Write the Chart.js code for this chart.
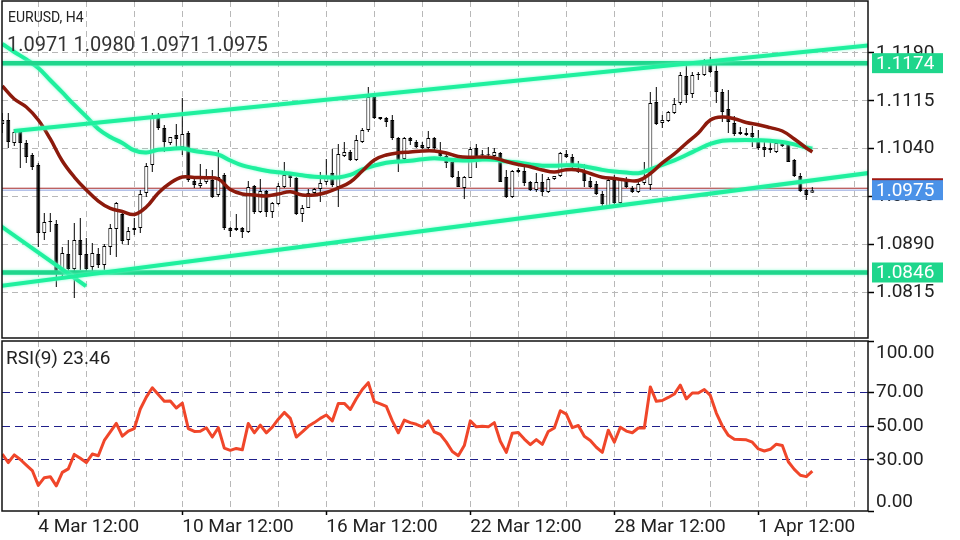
<!DOCTYPE html>
<html lang="en">
<head>
<meta charset="UTF-8">
<script src="https://cdn.jsdelivr.net/npm/chart.js"></script>
<title>EURUSD, H4</title>
<style>
  body { margin: 0; background: #fff; }
  #wrap { position: relative; width: 960px; height: 540px; }
  canvas { position: absolute; left: 0; }
  #priceChart { top: 0; }
  #rsiChart { top: 340px; }
</style>
</head>
<body>
<div id="wrap">
  <canvas id="priceChart" width="960" height="340"></canvas>
  <canvas id="rsiChart" width="960" height="200"></canvas>
</div>
<script>
// ---- data (H4 bars, index 0 = first visible bar) ----
const symbol = 'EURUSD, H4';

const opens = [
  1.10787, 1.10850, 1.10489, 1.10662, 1.10489, 1.10301, 1.10144, 1.09079, 1.09251, 1.09220,
  1.08515, 1.08750, 1.08515, 1.08969, 1.08750, 1.08546, 1.08750, 1.08577, 1.08860, 1.09142,
  1.09377, 1.08969, 1.09157, 1.09157, 1.09706, 1.10144, 1.10881, 1.10724, 1.10489, 1.10615,
  1.10427, 1.10646, 1.09894, 1.09815, 1.09878, 1.09909, 1.09674, 1.09988, 1.09157, 1.09126,
  1.09157, 1.09095, 1.09815, 1.09408, 1.09737, 1.09408, 1.09533, 1.09800, 1.09988, 1.09941,
  1.09377, 1.09471, 1.09706, 1.09768, 1.09878, 1.10019, 1.09800, 1.10286, 1.10348, 1.10223,
  1.10505, 1.10693, 1.11210, 1.10897, 1.10881, 1.10850, 1.10568, 1.10239, 1.10568, 1.10505,
  1.10458, 1.10411, 1.10568, 1.10333, 1.10286, 1.10192, 1.09956, 1.09784, 1.09941, 1.10411,
  1.10301, 1.10301, 1.10286, 1.10333, 1.09956, 1.09643, 1.10066, 1.10050, 1.09878, 1.09753,
  1.09878, 1.09721, 1.09925, 1.09972, 1.10317, 1.10270, 1.10066, 1.10035, 1.09894, 1.09847,
  1.09690, 1.09502, 1.09909, 1.09549, 1.09909, 1.09784, 1.09721, 1.09862, 1.09831, 1.11132,
  1.10803, 1.10834, 1.10959, 1.11116, 1.11539, 1.11257, 1.11555, 1.11555, 1.11727, 1.11617,
  1.11288, 1.11022, 1.10803, 1.10662, 1.10646, 1.10646, 1.10521, 1.10427, 1.10411, 1.10348,
  1.10489, 1.10474, 1.10223, 1.09972, 1.09753, 1.0971
];
const highs = [
  1.10959, 1.10959, 1.10709, 1.10677, 1.10536, 1.10333, 1.10176, 1.09392, 1.09392, 1.09283,
  1.08860, 1.08969, 1.09236, 1.09314, 1.09001, 1.08922, 1.08844, 1.08907, 1.09220, 1.09565,
  1.09439, 1.09173, 1.09314, 1.09753, 1.10176, 1.10959, 1.10959, 1.10771, 1.10583, 1.10787,
  1.11194, 1.10677, 1.09956, 1.10160, 1.10082, 1.10066, 1.10380, 1.10019, 1.09173, 1.09377,
  1.09173, 1.09894, 1.09831, 1.09925, 1.09753, 1.09565, 1.09862, 1.10192, 1.10035, 1.09956,
  1.09518, 1.09768, 1.09784, 1.10035, 1.10239, 1.10395, 1.10474, 1.10505, 1.10380, 1.10615,
  1.10724, 1.11367, 1.11226, 1.10897, 1.10897, 1.10928, 1.10583, 1.10583, 1.10583, 1.10536,
  1.10505, 1.10677, 1.10583, 1.10505, 1.10317, 1.10192, 1.10050, 1.09972, 1.10427, 1.10474,
  1.10380, 1.10427, 1.10411, 1.10348, 1.10066, 1.10066, 1.10097, 1.10113, 1.09894, 1.10019,
  1.10003, 1.09956, 1.09972, 1.10348, 1.10380, 1.10317, 1.10207, 1.10160, 1.09956, 1.09894,
  1.09737, 1.09956, 1.09988, 1.09941, 1.09956, 1.09815, 1.09925, 1.10192, 1.11288, 1.11367,
  1.10928, 1.10991, 1.11194, 1.11602, 1.11711, 1.11602, 1.11602, 1.11805, 1.11837, 1.11743,
  1.11335, 1.11320, 1.10912, 1.10740, 1.10724, 1.10756, 1.10693, 1.10505, 1.10505, 1.10505,
  1.10505, 1.10489, 1.10239, 1.10019, 1.09768, 1.0980
];
const lows = [
  1.10646, 1.10411, 1.10442, 1.10097, 1.10176, 1.10066, 1.08860, 1.08969, 1.09095, 1.08233,
  1.08405, 1.08468, 1.08060, 1.08499, 1.08468, 1.08468, 1.08530, 1.08499, 1.08734, 1.08703,
  1.08907, 1.08891, 1.09048, 1.09079, 1.09643, 1.10035, 1.10693, 1.10348, 1.10458, 1.10411,
  1.10301, 1.09878, 1.09784, 1.09784, 1.09847, 1.09627, 1.09643, 1.09126, 1.09016, 1.09110,
  1.09001, 1.09079, 1.09377, 1.09392, 1.09330, 1.09314, 1.09518, 1.09784, 1.09800, 1.09361,
  1.09251, 1.09471, 1.09674, 1.09565, 1.09831, 1.09800, 1.09486, 1.10270, 1.10207, 1.10207,
  1.10489, 1.10662, 1.10865, 1.10850, 1.10740, 1.10536, 1.10035, 1.10223, 1.10458, 1.10411,
  1.10395, 1.10348, 1.10380, 1.10254, 1.10097, 1.09941, 1.09800, 1.09612, 1.09941, 1.10097,
  1.10254, 1.10286, 1.10270, 1.09878, 1.09627, 1.09627, 1.10019, 1.09815, 1.09737, 1.09721,
  1.09659, 1.09706, 1.09909, 1.09956, 1.10254, 1.10082, 1.10019, 1.09800, 1.09784, 1.09674,
  1.09486, 1.09502, 1.09533, 1.09533, 1.09784, 1.09706, 1.09706, 1.09831, 1.09753, 1.10771,
  1.10724, 1.10818, 1.10944, 1.11085, 1.11116, 1.11194, 1.11476, 1.11539, 1.11586, 1.11116,
  1.10818, 1.10646, 1.10599, 1.10615, 1.10599, 1.10427, 1.10380, 1.10270, 1.10333, 1.10333,
  1.10427, 1.10192, 1.09956, 1.09721, 1.09596, 1.0971
];
const closes = [
  1.10850, 1.10505, 1.10662, 1.10489, 1.10270, 1.10113, 1.09079, 1.09251, 1.09267, 1.08468,
  1.08766, 1.08515, 1.08969, 1.08734, 1.08515, 1.08766, 1.08577, 1.08875, 1.09157, 1.09549,
  1.08954, 1.09110, 1.09126, 1.09690, 1.10129, 1.10881, 1.10724, 1.10505, 1.10583, 1.10552,
  1.10630, 1.09909, 1.09831, 1.09862, 1.09956, 1.09643, 1.09956, 1.09157, 1.09110, 1.09157,
  1.09095, 1.09800, 1.09408, 1.09737, 1.09408, 1.09549, 1.09815, 1.09988, 1.09941, 1.09377,
  1.09471, 1.09706, 1.09768, 1.09862, 1.09941, 1.09831, 1.10317, 1.10348, 1.10223, 1.10536,
  1.10693, 1.11210, 1.10881, 1.10865, 1.10818, 1.10568, 1.10223, 1.10568, 1.10521, 1.10427,
  1.10411, 1.10568, 1.10411, 1.10286, 1.10176, 1.09956, 1.09800, 1.09956, 1.10395, 1.10270,
  1.10296, 1.10296, 1.10348, 1.09878, 1.09643, 1.10050, 1.10035, 1.09862, 1.09753, 1.09878,
  1.09721, 1.09925, 1.09972, 1.10333, 1.10270, 1.10160, 1.10035, 1.09894, 1.09800, 1.09690,
  1.09533, 1.09909, 1.09549, 1.09909, 1.09800, 1.09721, 1.09847, 1.09941, 1.11116, 1.10787,
  1.10850, 1.10975, 1.11100, 1.11555, 1.11241, 1.11555, 1.11560, 1.11727, 1.11602, 1.11288,
  1.10975, 1.10818, 1.10630, 1.10630, 1.10615, 1.10583, 1.10411, 1.10380, 1.10380, 1.10489,
  1.10442, 1.10192, 1.09972, 1.09737, 1.09674, 1.0975
];

// moving averages, read at every second bar
const maBars = [
  0, 2, 4, 6, 8, 10, 12, 14, 16, 18, 20, 22, 24, 26, 28, 30, 32, 34, 36, 38,
  40, 42, 44, 46, 48, 50, 52, 54, 56, 58, 60, 62, 64, 66, 68, 70, 72, 74, 76, 78,
  80, 82, 84, 86, 88, 90, 92, 94, 96, 98, 100, 102, 104, 106, 108, 110, 112, 114, 116, 118,
  120, 122, 124, 126, 128, 130, 132, 134, 135
];
const maFast = [
  1.11382, 1.11179, 1.11053, 1.10850, 1.10552, 1.10207, 1.09956, 1.09753, 1.09580, 1.09463,
  1.09416, 1.09369, 1.09486, 1.09706, 1.09862, 1.09956, 1.09949, 1.09945, 1.09925, 1.09761,
  1.09690, 1.09674, 1.09659, 1.09690, 1.09726, 1.09674, 1.09674, 1.09714, 1.09784, 1.09878,
  1.10050, 1.10223, 1.10301, 1.10336, 1.10348, 1.10364, 1.10364, 1.10333, 1.10278, 1.10265,
  1.10270, 1.10254, 1.10199, 1.10152, 1.10116, 1.10066, 1.10035, 1.10071, 1.10066, 1.10011,
  1.09953, 1.09933, 1.09906, 1.09902, 1.10011, 1.10176, 1.10317, 1.10485, 1.10646, 1.10850,
  1.10897, 1.10870, 1.10810, 1.10776, 1.10729, 1.10677, 1.10552, 1.10411, 1.10348
];
const maSlow = [
  1.12041, 1.11915, 1.11798, 1.11664, 1.11472, 1.11281, 1.11085, 1.10901, 1.10709, 1.10583,
  1.10489, 1.10372, 1.10340, 1.10384, 1.10395, 1.10405, 1.10364, 1.10337, 1.10306, 1.10215,
  1.10137, 1.10094, 1.10055, 1.10030, 1.10010, 1.09983, 1.09961, 1.09952, 1.09949, 1.09988,
  1.10074, 1.10134, 1.10181, 1.10199, 1.10210, 1.10235, 1.10249, 1.10235, 1.10218, 1.10215,
  1.10229, 1.10226, 1.10201, 1.10182, 1.10154, 1.10134, 1.10134, 1.10141, 1.10138, 1.10105,
  1.10068, 1.10041, 1.10025, 1.10016, 1.10077, 1.10148, 1.10218, 1.10301, 1.10391, 1.10474,
  1.10524, 1.10533, 1.10536, 1.10532, 1.10524, 1.10506, 1.10467, 1.10419, 1.10403
];

const rsi = [
  33.5, 28.5, 33, 30.3, 27, 23.8, 15.1, 19.6, 20.2, 14.8,
  22.7, 24.8, 33.3, 31, 28.5, 33.5, 32.5, 41.5, 46.5, 51.5,
  44, 47, 48.5, 60, 67, 72.5, 68.5, 64.5, 64.7, 60.6,
  63.5, 48.5, 46.8, 46.9, 49, 43.5, 49, 37, 35.7, 36.8,
  36, 51.5, 46, 50.5, 46, 49.3, 54, 58, 54.5, 43.5,
  46.5, 49.8, 52, 54.5, 56.5, 53, 63.3, 63.3, 59.7, 66,
  71.5, 75.5, 64.3, 63, 61.5, 53, 46, 53.5, 52, 51,
  49.5, 53, 46.5, 45, 40.5, 35, 32.5, 38.5, 53, 49.5,
  49.8, 49.5, 52, 41, 34.5, 45.7, 46.2, 42.3, 39, 42,
  39.2, 46.8, 48.8, 59, 57, 49, 50.3, 44, 41.5, 37.5,
  34.5, 47.5, 40.5, 49.3, 47, 46, 48.8, 48.8, 73, 64.5,
  65, 66.8, 68.8, 74, 66, 69.4, 69.4, 71.5, 68, 57.6,
  50, 44.5, 42.2, 42.1, 41.9, 40.5, 36.5, 35.3, 36.3, 39.3,
  38.5, 29, 24.5, 21, 20.2, 23.46
];

// drawn objects: price levels and trend lines (bar index, price)
const levels = [1.1174, 1.0846];
const bid = 1.0975;
const ask = 1.0978;
const upperChannel = [{x: 1.95, y: 1.10677}, {x: 150, y: 1.12069}];
const lowerChannel = [{x: -1, y: 1.08241}, {x: 150, y: 1.10087}];
const shortLine = [{x: -1, y: 1.09237}, {x: 13.95, y: 1.08248}];

// axes
const timeTicks = [6, 30, 54, 78, 102, 126];
const timeLabels = ['4 Mar 12:00', '10 Mar 12:00', '16 Mar 12:00', '22 Mar 12:00', '28 Mar 12:00', '1 Apr 12:00'];
const priceTicks = [1.0815, 1.0890, 1.0965, 1.1040, 1.1115, 1.1190];
const rsiTicks = [0, 30, 50, 70, 100];
const rsiLevels = [30, 50, 70];

// ---- view ----
const xMin = -0.05, xMax = 144.28;
const priceMin = 1.074335, priceMax = 1.12714;
const gridBars = [];
for (let v = 6; v <= 142; v += 8) gridBars.push(v);

const gridColor = '#b8b8b8';
const mint = '#1ff09e';
const levelColor = '#1fd68c';
const glowColor = 'rgba(120,255,205,0.9)';

Chart.defaults.font.family = 'Roboto';
Chart.defaults.color = '#222';
Chart.defaults.animation = false;

const bars = opens.map((o, i) => i);
const bull = bars.map(i => closes[i] >= opens[i]);
const last = bars.length - 1;

const glowPlugin = {
  id: 'glow',
  beforeDatasetDraw(chart, args) {
    const ds = chart.data.datasets[args.index];
    if (!ds.glow) return;
    chart.ctx.save();
    chart.ctx.shadowColor = ds.glow;
    chart.ctx.shadowBlur = 3;
  },
  afterDatasetDraw(chart, args) {
    if (chart.data.datasets[args.index].glow) chart.ctx.restore();
  }
};

const priceOverlay = {
  id: 'priceOverlay',
  afterDraw(chart) {
    const {ctx, chartArea: a, scales: {y}} = chart;
    ctx.save();
    ctx.strokeStyle = '#111';
    ctx.lineWidth = 1.5;
    ctx.strokeRect(a.left, a.top, a.right - a.left, a.bottom - a.top);

    ctx.font = '19px Roboto';
    ctx.textBaseline = 'middle';
    const tag = (v, bg, text) => {
      const py = y.getPixelForValue(v);
      ctx.fillStyle = bg;
      ctx.fillRect(a.right + 4, py - 10, 71, 20);
      if (text) {
        ctx.fillStyle = '#fff';
        ctx.fillText(text, a.right + 8, py + 1);
      }
    };
    tag(ask, '#a01812');
    tag(bid, '#4b92e8', bid.toFixed(4));
    levels.forEach(v => tag(v, levelColor, v.toFixed(4)));

    ctx.fillStyle = '#222';
    ctx.font = '14px Roboto';
    ctx.fillText(symbol, 8, 18);
    ctx.fillStyle = '#333';
    ctx.font = '20px Roboto';
    const ohlc = [opens[last], highs[last], lows[last], closes[last]].map(v => v.toFixed(4)).join(' ');
    ctx.fillText(ohlc, 7, 46);
    ctx.restore();
  }
};

const rsiOverlay = {
  id: 'rsiOverlay',
  afterDraw(chart) {
    const {ctx, chartArea: a, scales: {y}} = chart;
    ctx.save();
    ctx.strokeStyle = '#111';
    ctx.lineWidth = 1.5;
    ctx.strokeRect(a.left, a.top, a.right - a.left, a.bottom - a.top);
    ctx.textBaseline = 'middle';
    ctx.fillStyle = '#222';
    ctx.font = '19px Roboto';
    ctx.fillText((100).toFixed(2), a.right + 8, y.getPixelForValue(100) + 12);
    ctx.fillText((0).toFixed(2), a.right + 8, y.getPixelForValue(0) - 9);
    ctx.fillText('RSI(9) ' + rsi[last].toFixed(2), 6, 19);
    ctx.restore();
  }
};

const xScale = (withLabels) => ({
  type: 'linear',
  min: xMin,
  max: xMax,
  offset: false,
  afterBuildTicks: s => { s.ticks = gridBars.map(v => ({value: v})); },
  afterFit: s => { s.height = withLabels ? 29 : 2; s.paddingLeft = 0; s.paddingRight = 0; },
  ticks: {
    display: withLabels,
    autoSkip: false,
    maxRotation: 0,
    align: 'start',
    padding: 1,
    font: {size: 19},
    color: '#222',
    callback: v => { const k = timeTicks.indexOf(v); return k < 0 ? '' : timeLabels[k]; }
  },
  grid: {
    offset: false,
    color: gridColor,
    lineWidth: 1,
    drawTicks: withLabels,
    tickLength: 4,
    tickWidth: 1.5,
    tickBorderDash: [],
    tickColor: c => timeTicks.includes(c.tick && c.tick.value) ? '#000' : 'rgba(0,0,0,0)'
  },
  border: {display: false, dash: [6, 4]}
});

const lineSet = (points, color, width, order, glow) => ({
  type: 'line', data: points, borderColor: color, borderWidth: width,
  pointRadius: 0, fill: false, order: order, glow: glow
});

new Chart(document.getElementById('priceChart'), {
  type: 'bar',
  data: {
    datasets: [
      lineSet(upperChannel, mint, 4, 1, glowColor),
      lineSet(lowerChannel, mint, 4, 1, glowColor),
      lineSet(shortLine, mint, 4, 1, glowColor),
      lineSet([{x: -1, y: levels[0]}, {x: 150, y: levels[0]}], levelColor, 4.5, 2, glowColor),
      lineSet([{x: -1, y: levels[1]}, {x: 150, y: levels[1]}], levelColor, 4.5, 2, glowColor),
      Object.assign(lineSet(maBars.map((b, k) => ({x: b, y: maFast[k]})), '#8c1a0c', 3.5, 3), {tension: 0.4}),
      Object.assign(lineSet(maBars.map((b, k) => ({x: b, y: maSlow[k]})), mint, 4, 4, glowColor), {tension: 0.4}),
      lineSet([{x: -1, y: ask}, {x: 150, y: ask}], '#a52a2a', 1, 20),
      lineSet([{x: -1, y: bid}, {x: 150, y: bid}], '#8fa3e0', 1, 20),
      {
        type: 'bar', label: 'wick',
        data: bars.map(i => ({x: i, y: [lows[i], highs[i]]})),
        backgroundColor: '#000', borderWidth: 0, maxBarThickness: 1, grouped: false, order: 11
      },
      {
        type: 'bar', label: 'body',
        data: bars.map(i => ({x: i, y: [opens[i], closes[i]]})),
        backgroundColor: bull.map(b => b ? '#fff' : '#000'),
        borderColor: '#000', borderWidth: 1, borderSkipped: false,
        maxBarThickness: 4, minBarLength: 1, grouped: false, order: 10
      }
    ]
  },
  options: {
    responsive: false,
    animation: false,
    layout: {padding: {top: 1, left: 2, right: 0, bottom: 0}},
    plugins: {legend: {display: false}, tooltip: {enabled: false}},
    scales: {
      x: xScale(false),
      y: {
        position: 'right',
        min: priceMin,
        max: priceMax,
        beginAtZero: false,
        afterBuildTicks: s => { s.ticks = priceTicks.map(v => ({value: v})); },
        afterFit: s => { s.width = 92; s.paddingTop = 0; s.paddingBottom = 0; },
        ticks: {font: {size: 19}, color: '#222', padding: 2, callback: v => v.toFixed(4)},
        grid: {color: gridColor, tickColor: '#000', tickLength: 6, tickWidth: 1.5, tickBorderDash: []},
        border: {display: false, dash: [6, 4]}
      }
    }
  },
  plugins: [glowPlugin, priceOverlay]
});

new Chart(document.getElementById('rsiChart'), {
  type: 'line',
  data: {
    datasets: [{
      data: bars.map(i => ({x: i, y: rsi[i]})),
      borderColor: '#f0462a', borderWidth: 3, pointRadius: 0, fill: false,
      tension: 0, borderJoinStyle: 'round'
    }]
  },
  options: {
    responsive: false,
    animation: false,
    layout: {padding: {top: 1, left: 2, right: 0, bottom: 0}},
    plugins: {legend: {display: false}, tooltip: {enabled: false}},
    scales: {
      x: xScale(true),
      y: {
        position: 'right',
        min: 0,
        max: 100,
        afterBuildTicks: s => { s.ticks = rsiTicks.map(v => ({value: v})); },
        afterFit: s => { s.width = 92; s.paddingTop = 0; s.paddingBottom = 0; },
        ticks: {font: {size: 19}, color: '#222', padding: 2,
                callback: v => rsiLevels.includes(v) ? v.toFixed(2) : ''},
        grid: {
          color: c => rsiLevels.includes(c.tick && c.tick.value) ? '#1f1f8a' : 'rgba(0,0,0,0)',
          tickColor: '#000', tickLength: 6, tickWidth: 1.5, tickBorderDash: []
        },
        border: {display: false, dash: [8, 5]}
      }
    }
  },
  plugins: [rsiOverlay]
});
</script>
</body>
</html>
